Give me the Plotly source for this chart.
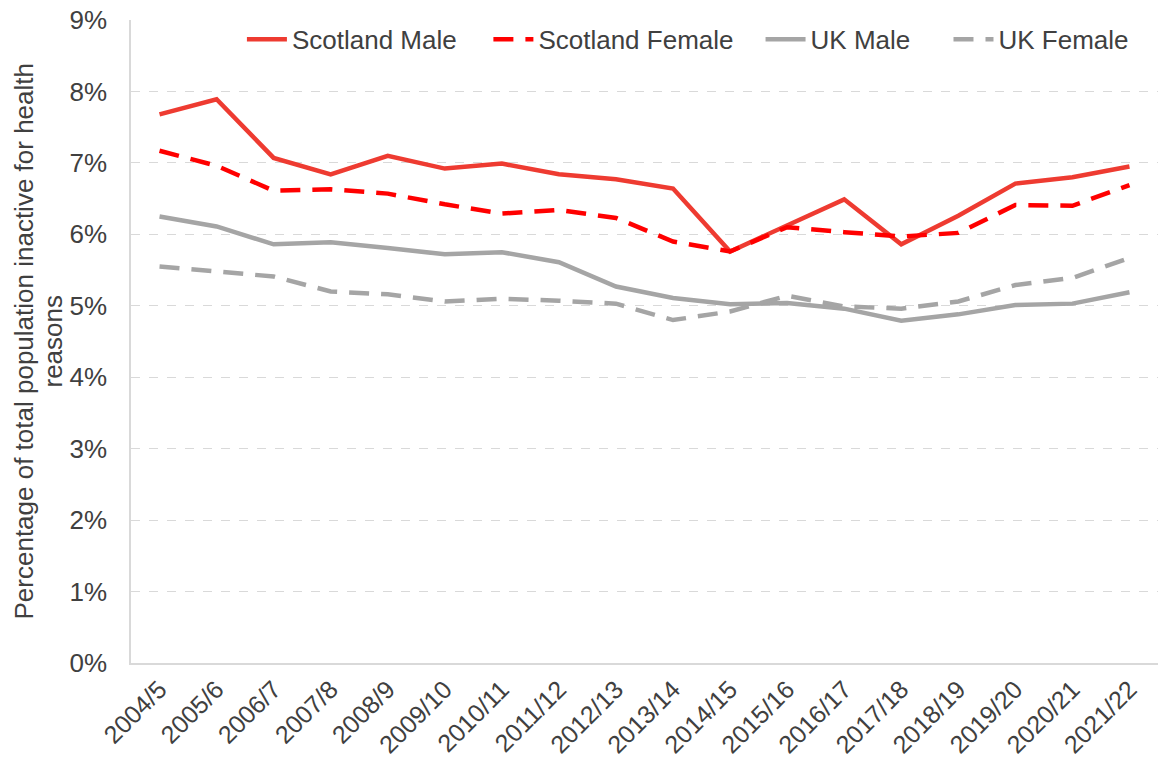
import plotly.graph_objects as go

years = ["2004/5", "2005/6", "2006/7", "2007/8", "2008/9", "2009/10", "2010/11", "2011/12",
         "2012/13", "2013/14", "2014/15", "2015/16", "2016/17", "2017/18", "2018/19",
         "2019/20", "2020/21", "2021/22"]

scotland_male = [7.68, 7.89, 7.07, 6.84, 7.10, 6.92, 6.99, 6.84, 6.77, 6.64, 5.76, 6.13,
                 6.49, 5.86, 6.26, 6.71, 6.80, 6.95]
scotland_female = [7.17, 6.96, 6.61, 6.63, 6.57, 6.42, 6.29, 6.34, 6.23, 5.90, 5.76, 6.10,
                   6.03, 5.97, 6.02, 6.41, 6.40, 6.69]
uk_male = [6.25, 6.11, 5.86, 5.89, 5.81, 5.72, 5.75, 5.61, 5.27, 5.11, 5.02, 5.04,
           4.96, 4.79, 4.88, 5.01, 5.03, 5.19]
uk_female = [5.55, 5.48, 5.41, 5.20, 5.16, 5.06, 5.10, 5.07, 5.03, 4.80, 4.92, 5.14,
             4.99, 4.96, 5.06, 5.29, 5.39, 5.67]

y_ticks = [0, 1, 2, 3, 4, 5, 6, 7, 8, 9]
y_tick_labels = [f"{v}%" for v in y_ticks]
y_title_lines = ["Percentage of total population inactive for health", "reasons"]

series = [
    ("Scotland Male", scotland_male, "#EE3B31", "solid", "legend", 0.108),
    ("Scotland Female", scotland_female, "#FF0000", "20px,12px", "legend2", 0.348),
    ("UK Male", uk_male, "#A5A5A5", "solid", "legend3", 0.613),
    ("UK Female", uk_female, "#A5A5A5", "20px,12px", "legend4", 0.796),
]

font_family = "Liberation Sans, Arial, sans-serif"

fig = go.Figure()
legend_layouts = {}
for name, vals, color, dash, leg, lx in series:
    fig.add_trace(go.Scatter(
        x=years, y=vals, name=name, mode="lines", legend=leg,
        line=dict(color=color, width=4.5, dash=dash),
    ))
    legend_layouts[leg] = dict(
        orientation="h", x=lx, y=0.97, xanchor="left", yanchor="middle",
        font=dict(size=26, color="#404040"), bgcolor="rgba(0,0,0,0)",
        itemwidth=40,
    )

# y-axis title as two rotated lines (page x centres ~23 and ~52)
title_annots = []
for text, px in zip(y_title_lines, [23, 52]):
    title_annots.append(dict(
        text=text, textangle=-90, xref="paper", yref="paper",
        x=(px - 131) / 1027, y=0.5, xanchor="center", yanchor="middle",
        showarrow=False, font=dict(size=26, color="#404040"),
    ))

fig.update_layout(
    width=1158, height=767,
    margin=dict(l=131, r=0, t=20, b=104),
    paper_bgcolor="white", plot_bgcolor="white",
    font=dict(family=font_family, size=26, color="#404040"),
    showlegend=True,
    xaxis=dict(
        type="category", range=[-0.5, 17.5], tickangle=-45,
        tickfont=dict(size=25, color="#404040"),
        showgrid=False, showline=True, linecolor="#D9D9D9", linewidth=1.5,
        ticks="", zeroline=False, automargin=False,
    ),
    yaxis=dict(
        range=[0, 9], tickvals=y_ticks, ticktext=y_tick_labels,
        tickfont=dict(size=26, color="#404040"), ticklabelstandoff=17,
        ticklabeloverflow="allow",
        showgrid=True, gridcolor="#D9D9D9", griddash="dash", gridwidth=1,
        showline=True, linecolor="#D9D9D9", linewidth=1.5,
        ticks="", zeroline=False, automargin=False,
    ),
    annotations=title_annots,
    **legend_layouts,
)

fig.write_html("out.html", config={"displayModeBar": False},
               post_script="document.body.style.margin='0';")
